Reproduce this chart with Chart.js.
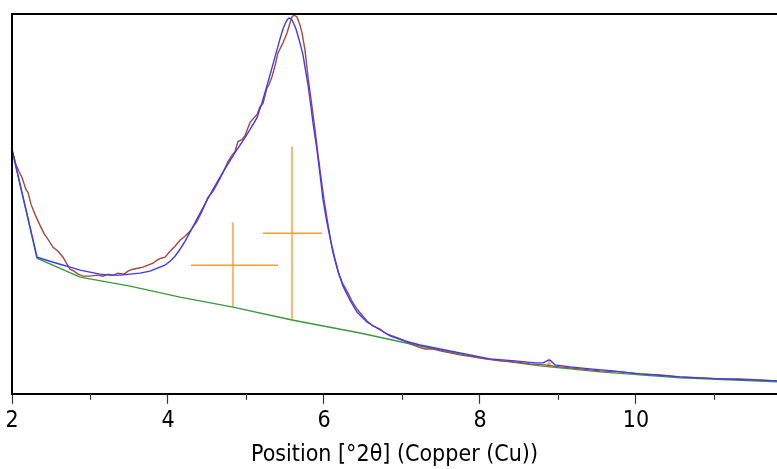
<!DOCTYPE html>
<html>
<head>
<meta charset="utf-8">
<script src="https://cdn.jsdelivr.net/npm/chart.js@4/dist/chart.umd.min.js"></script>
<style>
  body { margin: 0; background: #fff; }
  #wrap { width: 777px; height: 469px; }
</style>
</head>
<body>
<div id="wrap"><canvas id="chart" width="777" height="469"></canvas></div>
<script>
// measured profile (counts, arbitrary) vs 2theta
const obsX = [2.000, 2.051, 2.090, 2.128, 2.179, 2.205, 2.244, 2.295, 2.359, 2.410, 2.462, 2.526, 2.590, 2.654, 2.705, 2.744, 2.795, 2.846, 2.910, 3.000,
  3.090, 3.167, 3.231, 3.295, 3.359, 3.436, 3.487, 3.551, 3.615, 3.679, 3.744, 3.808, 3.859, 3.910, 3.962, 4.026, 4.090, 4.154, 4.218, 4.282,
  4.372, 4.436, 4.513, 4.577, 4.628, 4.667, 4.705, 4.769, 4.808, 4.859, 4.897, 4.949, 4.987, 5.026, 5.051, 5.103, 5.141, 5.179, 5.218, 5.269,
  5.295, 5.333, 5.372, 5.410, 5.462, 5.500, 5.526, 5.564, 5.590, 5.615, 5.654, 5.692, 5.718, 5.756, 5.795, 5.821, 5.846, 5.885, 5.923, 5.962,
  6.000, 6.051, 6.090, 6.141, 6.192, 6.244, 6.295, 6.359, 6.423, 6.487, 6.551, 6.628, 6.718, 6.808, 6.910, 7.013, 7.103, 7.205, 7.295, 7.397,
  7.487, 7.615, 7.744, 7.910, 8.064, 8.256, 8.449, 8.641, 8.833, 9.026, 9.282, 9.538, 9.795, 10.051, 10.308, 10.564, 10.821, 11.077, 11.333, 11.590, 11.808];
const obsY = [245, 230, 223, 217, 205, 202, 190, 180, 169, 161, 155, 147, 143, 137, 130, 125, 123, 120, 118, 118,
  119, 118, 120, 119, 121, 120, 123, 125, 126, 127, 129, 131, 134, 136, 137, 143, 148, 154, 158, 163,
  173, 183, 197, 203, 210, 216, 222, 233, 238, 243, 253, 255, 259, 267, 272, 277, 280, 288, 291, 307,
  310, 318, 329, 342, 350, 357, 362, 372, 378, 380, 378, 370, 362, 345, 318, 303, 288, 265, 240, 217,
  195, 170, 152, 135, 120, 110, 103, 93, 85, 79, 73, 68, 65, 60, 57, 54, 50, 47, 45, 45,
  43, 41, 39, 37, 35, 33, 32, 30, 29, 27, 25, 23, 22, 20, 19, 17, 16, 15, 15, 14, 13];

// calculated profile
const calcX = [2.000, 2.321, 2.487, 2.615, 2.744, 2.872, 3.000, 3.128, 3.256, 3.385, 3.513, 3.641, 3.769, 3.897, 3.962, 4.026, 4.090, 4.154, 4.218, 4.308,
  4.410, 4.513, 4.628, 4.756, 4.859, 4.962, 5.051, 5.141, 5.205, 5.269, 5.333, 5.397, 5.436, 5.474, 5.500, 5.526, 5.551, 5.577, 5.603, 5.641,
  5.667, 5.692, 5.731, 5.756, 5.795, 5.821, 5.859, 5.885, 5.910, 5.949, 5.987, 6.026, 6.051, 6.090, 6.115, 6.179, 6.244, 6.295, 6.333, 6.423,
  6.487, 6.551, 6.679, 6.846, 7.038, 7.231, 7.487, 7.808, 8.128, 8.449, 8.705, 8.808, 8.859, 8.885, 8.910, 8.962, 9.154, 9.410, 9.705, 10.051,
  10.564, 11.077, 11.808];
const calcY = [245, 137, 133, 130, 127, 124, 122, 120, 119, 119, 120, 121, 123, 127, 129, 133, 138, 145, 153, 166,
  181, 196, 212, 229, 242, 254, 265, 277, 292, 309, 327, 345, 356, 366, 371, 375, 377, 376.5, 373, 366,
  359, 352, 340, 328, 310, 295, 272, 258, 245, 220, 195, 177, 167, 152, 142, 123, 108, 100, 94, 82,
  77, 72, 66, 58, 53, 49, 45, 40, 35, 33, 31, 31, 33, 34, 33, 29, 27, 25, 23, 20,
  17, 15, 13];

// background
const bgX = [2.000, 2.321, 2.872, 3.513, 4.154, 4.833, 5.590, 6.462, 7.231, 8.000, 8.769, 9.538, 10.564, 11.808];
const bgY = [245, 136, 117, 108, 97, 87, 74, 61, 48, 36, 28, 22, 16, 12];

// peak markers: position, base, top, fwhm left/right, half height
const peakPos = [4.833, 5.590, 8.885];
const peakBase = [87, 74, 28];
const peakTop = [172, 248, 33];
const peakLeft = [4.295, 5.218, 8.859];
const peakRight = [5.410, 5.974, 8.910];
const peakMid = [129, 161, 30];

const xTicks = [2, 4, 6, 8, 10];
const xMinor = [3, 5, 7, 9, 11];

const FONT = "'DejaVu Sans Condensed', 'DejaVu Sans', sans-serif";

function pts(xs, ys) {
  return xs.map((x, i) => ({ x: x, y: ys[i] }));
}

const markerData = [];
peakPos.forEach((p, i) => {
  markerData.push({ x: p, y: peakBase[i] }, { x: p, y: peakTop[i] }, { x: p, y: null });
  markerData.push({ x: peakLeft[i], y: peakMid[i] }, { x: peakRight[i], y: peakMid[i] }, { x: peakRight[i], y: null });
});

const framePlugin = {
  id: "frame",
  afterDatasetsDraw(chart) {
    const a = chart.chartArea;
    const c = chart.ctx;
    const xs = chart.scales.x;
    c.save();
    c.strokeStyle = "#000";
    c.lineWidth = 2;
    c.beginPath();
    c.moveTo(a.left, a.bottom);
    c.lineTo(a.left, a.top);
    c.lineTo(a.right + 2, a.top);
    c.stroke();
    // minor ticks
    c.lineWidth = 1.2;
    c.strokeStyle = "#333";
    xMinor.forEach((v) => {
      const px = Math.round(xs.getPixelForValue(v)) + 0.5;
      c.beginPath();
      c.moveTo(px, a.bottom);
      c.lineTo(px, a.bottom + 6);
      c.stroke();
    });
    c.restore();
  }
};

const ctx = document.getElementById("chart").getContext("2d");
new Chart(ctx, {
  type: "scatter",
  data: {
    datasets: [
      {
        data: pts(calcX, calcY),
        showLine: true,
        borderColor: "#3a3aff",
        borderWidth: 1.4,
        pointRadius: 0,
        tension: 0,
        order: 0
      },
      {
        data: pts(obsX, obsY),
        showLine: true,
        borderColor: "#a8463c",
        borderWidth: 1.4,
        pointRadius: 0,
        tension: 0,
        order: 1
      },
      {
        data: pts(bgX, bgY),
        showLine: true,
        borderColor: "#3a9a3a",
        borderWidth: 1.4,
        pointRadius: 0,
        tension: 0,
        order: 2
      },
      {
        data: markerData,
        showLine: true,
        spanGaps: false,
        borderColor: "#ff9a30",
        borderWidth: 1.4,
        pointRadius: 0,
        tension: 0,
        order: 3
      }
    ]
  },
  options: {
    responsive: false,
    animation: false,
    devicePixelRatio: 1,
    layout: { padding: { left: 12, top: 14, right: 0, bottom: 0 } },
    plugins: { legend: { display: false }, tooltip: { enabled: false } },
    scales: {
      x: {
        type: "linear",
        min: 2,
        max: 11.808,
        afterBuildTicks: (scale) => {
          scale.ticks = xTicks.map((v) => ({ value: v }));
        },
        ticks: {
          color: "#000",
          padding: 3,
          maxRotation: 0,
          font: { family: FONT, size: 23 },
          callback: (v) => String(v)
        },
        grid: {
          drawOnChartArea: false,
          drawTicks: true,
          tickLength: 10,
          tickColor: "#333",
          tickWidth: 1.2
        },
        border: { display: true, color: "#000", width: 2 },
        title: {
          display: true,
          text: "Position [°2θ] (Copper (Cu))",
          color: "#000",
          font: { family: FONT, size: 23 },
          padding: { top: 4, bottom: 0 }
        }
      },
      y: {
        display: false,
        min: 0,
        max: 381
      }
    }
  },
  plugins: [framePlugin]
});
</script>
</body>
</html>
